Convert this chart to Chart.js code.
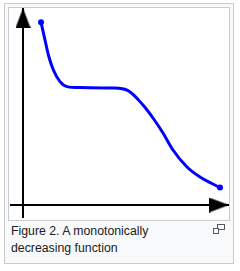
<!doctype html>
<html lang="en">

<head>
  <meta charset="utf-8">
  <title>monotonic</title>
  <style>
    body {
      margin: 0;
      background: #fff;
    }
    #thumb {
      position: absolute;
      left: 4px;
      top: 3px;
      width: 230px;
      height: 261px;
      box-sizing: border-box;
      border: 1px solid #c8ccd1;
      background: #f8f9fa;
    }
    #frame {
      position: absolute;
      left: 8px;
      top: 7px;
      width: 222px;
      height: 214px;
      box-sizing: border-box;
      border: 1px solid #c8ccd1;
      background: #fff;
    }
    #chart {
      position: absolute;
      left: 9px;
      top: 8px;
    }
    #caption {
      position: absolute;
      left: 11px;
      top: 223px;
      font-family: "Liberation Sans", Arial, sans-serif;
      font-size: 12.3px;
      line-height: 16.8px;
      color: #202122;
      white-space: nowrap;
    }
    #magnify {
      position: absolute;
      left: 213px;
      top: 224px;
    }
  </style>
</head>

<body>
  <div id="thumb"></div>
  <div id="frame"></div>
  <canvas id="chart" width="220" height="212"></canvas>
  <div id="caption">Figure 2. A monotonically<br>decreasing function</div>
  <svg id="magnify" width="12" height="10" viewBox="0 0 12 10">
    <rect x="4.5" y="0.5" width="7" height="5" fill="none" stroke="#54595d"/>
    <rect x="0.5" y="4.5" width="5" height="5" fill="#f8f9fa" stroke="#54595d"/>
  </svg>

  <script src="https://cdn.jsdelivr.net/npm/chart.js@4/dist/chart.umd.min.js"></script>
  <script>
  // the decreasing curve
  const curveX = [0.9, 1.1, 1.27, 1.52, 1.85, 2.2, 2.85, 4.5, 5.25, 6.0, 6.5, 7.0, 7.5, 8.2, 8.85, 9.85];
  const curveY = [9.14, 8.25, 7.5, 6.75, 6.17, 5.92, 5.87, 5.85, 5.72, 5.0, 4.35, 3.6, 2.75, 1.9, 1.4, 0.87];

  // axis lines, ending at the arrow tips
  const yAxisX = [0, 0];
  const yAxisY = [-0.65, 9.85];
  const xAxisX = [-0.65, 10.3];
  const xAxisY = [0, 0];

  function pairs(xs, ys) {
    return xs.map((x, i) => ({x: x, y: ys[i]}));
  }

  // arrow head, tip at the centre of the image so it sits on the last point
  function makeArrow() {
    let c = document.createElement('canvas');
    c.width = 15;
    c.height = 40;
    let ctx = c.getContext('2d');
    ctx.fillStyle = '#000';
    ctx.beginPath();
    ctx.moveTo(7.5, 20);
    ctx.lineTo(15, 40);
    ctx.lineTo(0, 40);
    ctx.closePath();
    ctx.fill();
    return c;
  }

  let arrow = makeArrow();
  let n = curveX.length;
  let dots = curveX.map((x, i) => (i == 0 || i == n - 1) ? 3 : 0);

  new Chart(document.getElementById('chart'), {
    type: 'scatter',
    data: {
      datasets: [
        {
          data: pairs(curveX, curveY),
          showLine: true,
          borderColor: '#0000ff',
          borderWidth: 3,
          cubicInterpolationMode: 'monotone',
          pointRadius: dots,
          pointBackgroundColor: '#0000ff',
          pointBorderWidth: 0,
          clip: false
        },
        {
          data: pairs(yAxisX, yAxisY),
          showLine: true,
          borderColor: '#000',
          borderWidth: 2,
          pointRadius: [0, 10],
          pointStyle: arrow,
          pointRotation: 0,
          clip: false
        },
        {
          data: pairs(xAxisX, xAxisY),
          showLine: true,
          borderColor: '#000',
          borderWidth: 2,
          pointRadius: [0, 10],
          pointStyle: arrow,
          pointRotation: 90,
          clip: false
        }
      ]
    },
    options: {
      responsive: false,
      animation: false,
      events: [],
      layout: {padding: 0, autoPadding: false},
      plugins: {
        legend: {display: false},
        tooltip: {enabled: false}
      },
      scales: {
        x: {type: 'linear', min: -0.7, max: 10.3, display: false},
        y: {type: 'linear', min: -0.75, max: 9.85, display: false}
      }
    }
  });
  </script>

</body>
</html>
